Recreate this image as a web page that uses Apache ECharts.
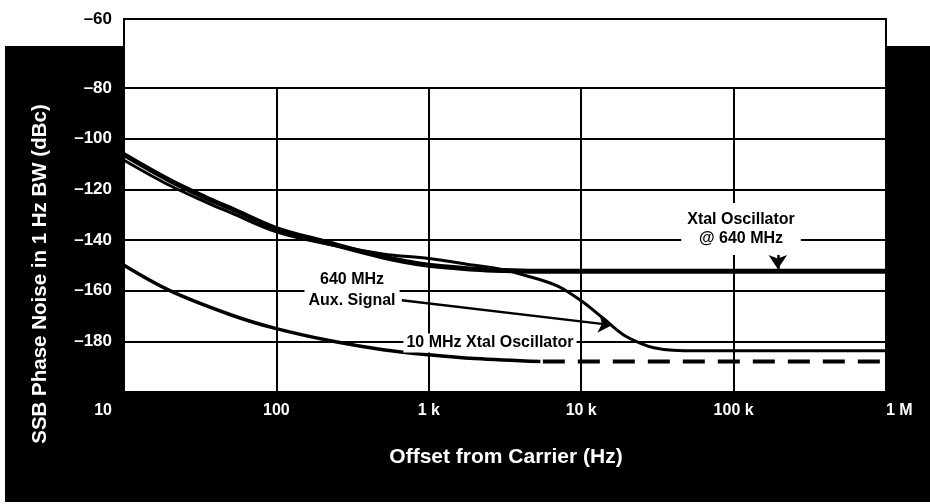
<!DOCTYPE html>
<html>
<head>
<meta charset="utf-8">
<script src="https://cdn.jsdelivr.net/npm/echarts@6/dist/echarts.min.js"></script>
<style>
  html, body { margin: 0; padding: 0; background: #ffffff; }
  #wrap { position: relative; width: 930px; height: 504px; overflow: hidden; }
  #bg { position: absolute; left: 5px; top: 46px; width: 925px; height: 456px; background: #000; }
  #chart { position: absolute; left: 0; top: 0; width: 930px; height: 504px; }
</style>
</head>
<body>
<div id="wrap"><div id="bg"></div><div id="chart"></div></div>
<script>
// ---- tick labels ----
const xTickValues = [10, 100, 1000, 10000, 100000, 1000000];
const xTickLabels = ['10', '100', '1 k', '10 k', '100 k', '1 M'];
const yTickValues = [-60, -80, -100, -120, -140, -160, -180];
const yTickLabels = ['\u201360', '\u201380', '\u2013100', '\u2013120', '\u2013140', '\u2013160', '\u2013180'];

// ---- Xtal Oscillator @ 640 MHz ----
const xtalFreq = [10, 20, 35, 50, 100, 200, 500, 1000, 2000, 3000, 5000, 1000000];
const xtalVals = [-106.3, -116.5, -123.5, -127.5, -135.5, -140.5, -146.7, -150, -151.5, -152, -152.3, -152.3];

// ---- 640 MHz Aux. Signal ----
const auxFreq = [10, 20, 35, 50, 100, 200, 500, 1000, 2000, 3000, 4200, 6900, 10000, 14000, 19000, 25000, 30000, 40000, 60000, 1000000];
const auxVals = [-108.5, -118.5, -125.2, -129.2, -136.8, -141.2, -145.5, -147.3, -150, -151.6, -153.8, -158, -164, -171, -177.5, -181, -182.5, -183.5, -183.7, -183.7];

// ---- 10 MHz Xtal Oscillator (solid + dashed extension) ----
const tenFreq = [10, 20, 50, 100, 235, 500, 1000, 2000, 5400];
const tenVals = [-150, -160, -169.5, -175, -180, -183.3, -185.3, -186.8, -188];
const tenDashFreq = [5600, 1000000];
const tenDashVals = [-188, -188];

// ---- annotation arrows (data coordinates) ----
const auxArrowFrom = [665, -163.8];
const auxArrowTo = [16000, -173.6];
const xtalArrowFrom = [195000, -142];
const xtalArrowTo = [195000, -151.4];

const pairs = (f, v) => f.map((x, i) => [x, v[i]]);
const FONT = '"Liberation Sans", Arial, Helvetica, sans-serif';

function xLabel(v) {
  const i = xTickValues.findIndex(t => Math.abs(Math.log10(t) - Math.log10(v)) < 1e-6);
  if (i < 0) return '';
  if (i === 0) return '{l|' + xTickLabels[i] + '}';
  return xTickLabels[i];
}
function yLabel(v) {
  const i = yTickValues.indexOf(v);
  return i >= 0 ? yTickLabels[i] : '';
}

const chart = echarts.init(document.getElementById('chart'), null, { renderer: 'canvas' });
const arrowLine = (from, to) => ({
  silent: true, symbol: ['none', 'arrow'], symbolSize: 14,
  itemStyle: { color: '#000' },
  lineStyle: { color: '#000', width: 2.5, type: 'solid' },
  label: { show: false },
  emphasis: { disabled: true },
  data: [[{ coord: from }, { coord: to }]]
});
const option = {
  animation: false,
  backgroundColor: 'transparent',
  grid: [
    { left: 124, right: 44, top: 19, height: 69, show: true, backgroundColor: '#fff', borderColor: '#000', borderWidth: 2 },
    { left: 124, right: 44, top: 88, bottom: 112, show: true, backgroundColor: '#fff', borderColor: '#000', borderWidth: 2 }
  ],
  xAxis: [
    { gridIndex: 0, type: 'log', logBase: 10, min: 10, max: 1000000, show: false },
    {
      gridIndex: 1, type: 'log', logBase: 10, min: 10, max: 1000000,
      axisLine: { show: false }, axisTick: { show: false },
      splitLine: { show: true, lineStyle: { color: '#000', width: 2 } },
      minorSplitLine: { show: false },
      axisLabel: {
        color: '#fff', fontSize: 16, fontWeight: 'bold', fontFamily: FONT, margin: 11,
        formatter: xLabel,
        alignMinLabel: 'right', alignMaxLabel: 'left',
        rich: { l: { color: '#fff', fontSize: 16, fontWeight: 'bold', fontFamily: FONT, padding: [0, 12, 0, 0] } }
      }
    }
  ],
  yAxis: [
    {
      gridIndex: 0, type: 'value', min: -80, max: -60, interval: 20,
      axisLine: { show: false }, axisTick: { show: false }, splitLine: { show: false },
      axisLabel: { showMinLabel: false, color: '#000', fontSize: 17, fontWeight: 'bold', fontFamily: FONT, margin: 12, formatter: yLabel }
    },
    {
      gridIndex: 1, type: 'value', min: -200, max: -80, interval: 20,
      axisLine: { show: false }, axisTick: { show: false },
      splitLine: { show: true, lineStyle: { color: '#000', width: 2 } },
      axisLabel: { showMinLabel: false, color: '#fff', fontSize: 17, fontWeight: 'bold', fontFamily: FONT, margin: 12, padding: [10, 0, 0, 0], formatter: yLabel }
    }
  ],
  series: [
    {
      name: '10 MHz Xtal Oscillator', type: 'line', xAxisIndex: 1, yAxisIndex: 1,
      data: pairs(tenFreq, tenVals), smooth: 0.35, showSymbol: false,
      lineStyle: { color: '#000', width: 3.5 }
    },
    {
      name: '10 MHz Xtal Oscillator (extrapolated)', type: 'line', xAxisIndex: 1, yAxisIndex: 1,
      data: pairs(tenDashFreq, tenDashVals), showSymbol: false,
      lineStyle: { color: '#000', width: 4, type: [22, 13] }
    },
    {
      name: '640 MHz Aux. Signal', type: 'line', xAxisIndex: 1, yAxisIndex: 1,
      data: pairs(auxFreq, auxVals), smooth: 0.35, showSymbol: false,
      itemStyle: { color: '#000' },
      lineStyle: { color: '#000', width: 3 },
      markLine: arrowLine(auxArrowFrom, auxArrowTo)
    },
    {
      name: 'Xtal Oscillator @ 640 MHz', type: 'line', xAxisIndex: 1, yAxisIndex: 1,
      data: pairs(xtalFreq, xtalVals), smooth: 0.35, showSymbol: false,
      itemStyle: { color: '#000' },
      lineStyle: { color: '#000', width: 5 },
      markLine: arrowLine(xtalArrowFrom, xtalArrowTo)
    }
  ],
  graphic: [
    {
      type: 'text', x: 40, y: 274, rotation: Math.PI / 2, z: 100,
      style: { text: 'SSB Phase Noise in 1 Hz BW (dBc)', fill: '#fff', font: 'bold 20.5px ' + FONT, align: 'center', verticalAlign: 'middle' }
    },
    {
      type: 'text', x: 506, y: 457, z: 100,
      style: { text: 'Offset from Carrier (Hz)', fill: '#fff', font: 'bold 21px ' + FONT, align: 'center', verticalAlign: 'middle' }
    },
    {
      type: 'text', x: 741, y: 229, z: 100,
      style: { text: 'Xtal Oscillator\n@ 640 MHz', fill: '#000', font: 'bold 16px ' + FONT, align: 'center', verticalAlign: 'middle',
        lineHeight: 19, backgroundColor: '#fff', padding: [14, 6, 0, 6] }
    },
    {
      type: 'text', x: 352, y: 290, z: 100,
      style: { text: '640 MHz\nAux. Signal', fill: '#000', font: 'bold 16px ' + FONT, align: 'center', verticalAlign: 'middle',
        lineHeight: 21, backgroundColor: '#fff', padding: [2, 4, 2, 4] }
    },
    {
      type: 'text', x: 490, y: 343, z: 100,
      style: { text: '10 MHz Xtal Oscillator', fill: '#000', font: 'bold 16px ' + FONT, align: 'center', verticalAlign: 'middle',
        backgroundColor: '#fff', padding: [2, 3, 1, 3] }
    }
  ]
};
chart.setOption(option);
</script>
</body>
</html>
